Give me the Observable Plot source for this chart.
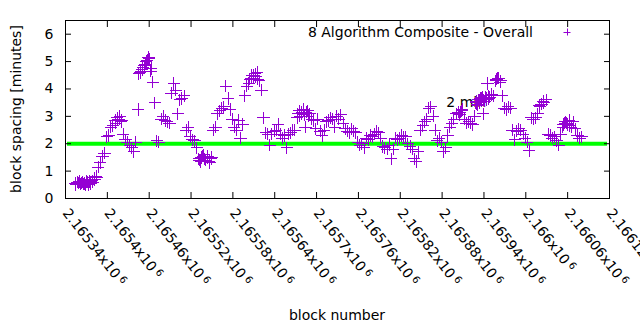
<!DOCTYPE html>
<html><head><meta charset="utf-8">
<script src="https://cdn.jsdelivr.net/npm/d3@7"></script>
<script src="https://cdn.jsdelivr.net/npm/@observablehq/plot@0.6"></script>
<style>body{margin:0;background:#fff;} svg{display:block}</style>
</head><body><div id="chart"></div>
<script>
// every third block
const blocks = [
2165354,2165357,2165360,2165363,2165366,2165369,2165372,2165375,2165378,2165381,
2165384,2165387,2165390,2165393,2165396,2165399,2165402,2165405,2165408,2165411,
2165414,2165417,2165420,2165423,2165426,2165429,2165432,2165435,2165438,2165441,
2165444,2165447,2165450,2165453,2165456,2165459,2165462,2165465,2165468,2165471,
2165474,2165477,2165480,2165483,2165486,2165489,2165492,2165495,2165498,2165501,
2165504,2165507,2165510,2165513,2165516,2165519,2165522,2165525,2165528,2165531,
2165534,2165537,2165540,2165543,2165546,2165549,2165552,2165555,2165558,2165561,
2165564,2165567,2165570,2165573,2165576,2165579,2165582,2165585,2165588,2165591,
2165594,2165597,2165600,2165603,2165606,2165609,2165612,2165615,2165618,2165621,
2165624,2165627,2165630,2165633,2165636,2165639,2165642,2165645,2165648,2165651,
2165654,2165657,2165660,2165663,2165666,2165669,2165672,2165675,2165678,2165681,
2165684,2165687,2165690,2165693,2165696,2165699,2165702,2165705,2165708,2165711,
2165714,2165717,2165720,2165723,2165726,2165729,2165732,2165735,2165738,2165741,
2165744,2165747,2165750,2165753,2165756,2165759,2165762,2165765,2165768,2165771,
2165774,2165777,2165780,2165783,2165786,2165789,2165792,2165795,2165798,2165801,
2165804,2165807,2165810,2165813,2165816,2165819,2165822,2165825,2165828,2165831,
2165834,2165837,2165840,2165843,2165846,2165849,2165852,2165855,2165858,2165861,
2165864,2165867,2165870,2165873,2165876,2165879,2165882,2165885,2165888,2165891,
2165894,2165897,2165900,2165903,2165906,2165909,2165912,2165915,2165918,2165921,
2165924,2165927,2165930,2165933,2165936,2165939,2165942,2165945,2165948,2165951,
2165954,2165957,2165960,2165963,2165966,2165969,2165972,2165975,2165978,2165981,
2165984,2165987,2165990,2165993,2165996,2165999,2166002,2166005,2166008,2166011,
2166014,2166017,2166020,2166023,2166026,2166029,2166032,2166035,2166038,2166041,
2166044,2166047,2166050,2166053,2166056,2166059,2166062,2166065,2166068,2166071,
2166074,2166077,2166080];
const spacing = [
0.55,0.6,0.62,0.58,0.52,0.5,0.6,0.62,0.65,0.75,
0.82,1.15,1.3,1.55,1.65,2.25,2.3,2.6,2.65,2.85,
2.95,2.9,2.8,2.35,2.15,2.05,1.95,1.85,1.7,2.05,
3.25,4.6,4.7,4.85,5.0,5.15,4.65,4.25,3.5,2.1,
2.05,2.9,3.0,2.85,2.8,2.75,3.85,4.2,3.95,3.1,
3.6,3.65,3.75,2.5,2.6,2.25,2.15,2.1,1.85,1.45,
1.35,1.55,1.45,1.5,1.35,1.45,2.5,2.6,3.1,3.2,
3.3,3.35,4.1,3.65,3.25,2.9,2.6,2.5,2.85,2.2,
2.7,3.75,4.1,4.2,4.4,4.5,4.55,4.6,4.3,3.95,
2.95,2.4,2.35,1.95,2.35,2.45,2.5,2.7,2.35,2.2,
2.3,1.85,2.35,2.4,2.5,2.5,2.95,3.2,3.1,3.25,
2.6,3.2,3.1,2.9,2.85,2.55,2.9,2.45,2.3,2.5,
2.8,2.85,2.95,2.9,2.6,3.0,2.9,3.05,2.75,2.55,
2.45,2.4,2.55,2.45,2.4,2.05,1.95,2.0,1.85,2.2,
2.15,2.3,2.25,2.35,2.45,2.4,2.2,1.9,1.85,1.8,
1.95,1.45,1.8,2.2,2.15,2.2,2.3,2.25,2.25,2.0,
1.9,1.8,1.45,1.35,1.7,2.5,2.65,2.8,2.9,3.3,
3.35,3.0,2.5,2.1,2.2,2.05,1.7,1.85,2.3,2.6,
2.75,2.9,3.1,3.15,3.15,3.25,2.9,2.75,2.8,2.75,
2.7,3.0,3.45,3.6,3.65,3.1,3.7,4.2,3.7,3.8,
3.75,4.3,4.4,4.25,3.75,3.3,3.25,3.35,3.3,2.5,
2.15,2.45,2.55,2.5,2.35,2.2,2.05,1.75,2.95,2.9,
2.95,3.1,3.35,3.45,3.5,3.6,2.35,2.3,2.2,2.25,
2.1,1.95,2.35,2.6,2.75,2.75,2.85,2.6,2.8,2.55,
2.3,2.2,2.25];
// extra blocks inside the densest clusters
const blocksB = [
2165355,2165358,2165361,2165364,2165367,2165370,2165373,2165376,2165379,2165382,2165385,
2165412,2165415,2165418,2165421,
2165445,2165448,2165451,2165454,2165457,2165460,2165463,
2165532,2165535,2165538,2165541,2165544,2165547,2165550,
2165604,2165607,2165610,2165613,2165616,
2165673,2165676,2165679,2165682,2165685,2165688,
2165905,2165908,
2165928,2165929,2165931,2165932,2165934,2165935,2165937,2165938,2165940,2165941,2165943,2165944,2165946,2165947,
2165958,2165961,2165964,
2166019,2166022,2166025,
2166054,2166057,2166060,2166063];
const spacingB = [
0.5,0.58,0.52,0.6,0.55,0.62,0.5,0.55,0.6,0.68,0.78,
2.75,2.9,3.0,2.85,
4.55,4.65,4.8,4.9,5.05,5.1,4.75,
1.4,1.5,1.6,1.4,1.55,1.3,1.5,
4.35,4.5,4.4,4.45,4.35,
3.1,3.0,3.15,3.05,3.15,3.0,
3.05,3.2,
3.5,3.55,3.4,3.6,3.5,3.65,3.55,3.7,3.6,3.55,3.65,3.6,3.75,3.65,
4.35,4.4,4.3,
3.4,3.45,3.55,
2.7,2.8,2.7,2.65];
const xTicks = [2165340,2165400,2165460,2165520,2165580,2165640,2165700,2165760,2165820,2165880,2165940,2166000,2166060,2166120];
const yTicks = [0,1,2,3,4,5,6];
const targetSpacing = [2];
const noteText = ["2 min"];
const noteBlock = [2165886];
const noteValue = [3.5];
const seriesName = "8 Algorithm Composite - Overall";
const xTitle = "block number";
const yTitle = "block spacing [minutes]";

const data = blocks.map((b, i) => ({block: b, spacing: spacing[i]}))
  .concat(blocksB.map((b, i) => ({block: b, spacing: spacingB[i]})));
const notes = noteText.map((t, i) => ({text: t, block: noteBlock[i], value: noteValue[i]}));
const mantissa = v => String(+(v / 1e6).toFixed(5));

const chart = Plot.plot({
  width: 640, height: 330,
  marginLeft: 65, marginRight: 31, marginTop: 20, marginBottom: 132,
  style: {fontFamily: "DejaVu Sans", fontSize: "14px", background: "#fff", color: "#000"},
  x: {domain: [2165340, 2166120]},
  y: {domain: [0, 6.5]},
  marks: [
    Plot.ruleY(targetSpacing, {stroke: "#00ff00", strokeWidth: 4, insetLeft: 2, insetRight: 2}),
    Plot.text(notes, {x: "block", y: "value", text: "text", textAnchor: "start", fontSize: 14, fill: "#000"}),
    Plot.dot(data, {x: "block", y: "spacing", symbol: "plus", r: 4, stroke: "#9400d3", strokeWidth: 1, shapeRendering: "crispEdges"}),
    Plot.frame({stroke: "#000", shapeRendering: "crispEdges"}),
    Plot.axisY(yTicks, {anchor: "left", tickSize: -6, tickPadding: 18, label: null, fontSize: 14}),
    Plot.axisY(yTicks, {anchor: "right", tickSize: -6, tickFormat: () => "", label: null}),
    Plot.axisX(xTicks, {anchor: "bottom", tickSize: -6, tickPadding: 18, tickRotate: 52, textAnchor: "start", tickFormat: mantissa, label: null, fontSize: 14}),
    Plot.axisX(xTicks, {anchor: "top", tickSize: -6, tickFormat: () => "", label: null})
  ]
});

const svg = d3.select(chart);
svg.selectAll('g[aria-label="x-axis tick label"] text').each(function () {
  const t = this.textContent;
  if (!t) return;
  const sel = d3.select(this);
  sel.text(t + "x10");
  sel.append("tspan").attr("dx", 3).attr("dy", -4).attr("font-size", 10).text("6");
});
svg.append("text").attr("transform", "translate(21,109) rotate(-90)")
  .attr("text-anchor", "middle").attr("font-size", 14).attr("fill", "#000").text(yTitle);
svg.append("text").attr("x", 337).attr("y", 320)
  .attr("text-anchor", "middle").attr("font-size", 14).attr("fill", "#000").text(xTitle);
svg.append("text").attr("x", 533).attr("y", 37)
  .attr("text-anchor", "end").attr("font-size", 14).attr("fill", "#000").text(seriesName);
svg.append("path").attr("d", "M563.5,32.5h7M567.5,28.5v7").attr("stroke", "#9400d3").attr("fill", "none");

document.getElementById("chart").appendChild(chart);
</script>
</body></html>
